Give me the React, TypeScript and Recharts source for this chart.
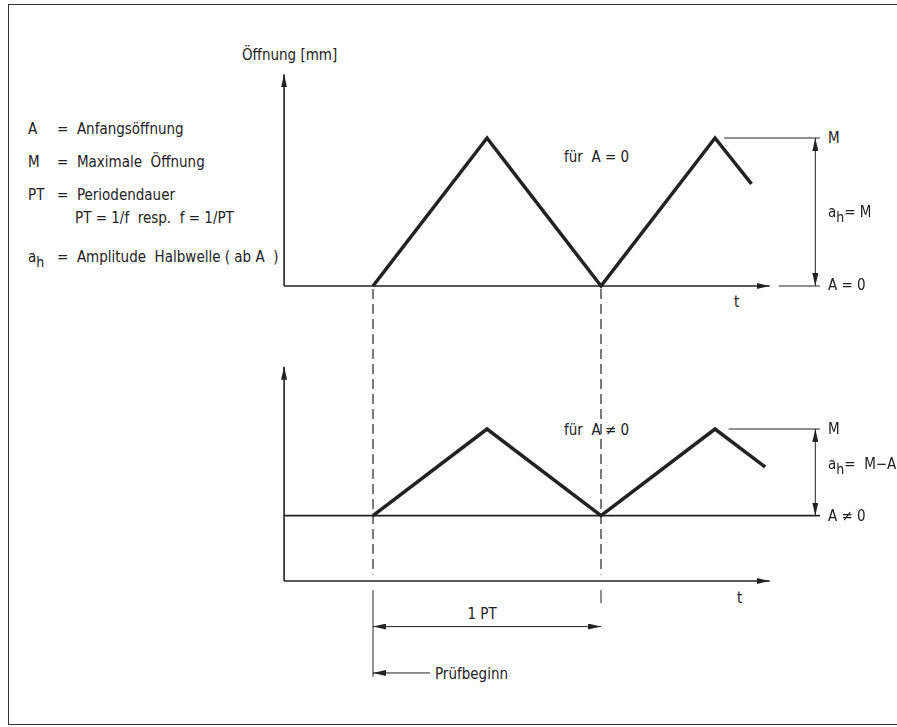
import React from "react";
import { ComposedChart, Line, XAxis, YAxis, ReferenceLine } from "recharts";

// Triangle wave, time in units of PT, opening relative to M
const waveTimes = [0, 0.5, 1, 1.5, 1.66];
const topWaveValues = [0, 1, 0, 1, 0.69];
const bottomWaveTimes = [0, 0.5, 1, 1.5, 1.72];
const bottomWaveValues = [0.43, 1, 0.43, 1, 0.75];

const M = 1;
const A_TOP = 0;
const A_BOTTOM = 0.43;

const legendRows = [
  { key: "A", text: "Anfangsöffnung" },
  { key: "M", text: "Maximale  Öffnung" },
  { key: "PT", text: "Periodendauer" },
];

const topWave = waveTimes.map((t, i) => ({ t, y: topWaveValues[i] }));
const bottomWave = bottomWaveTimes.map((t, i) => ({ t, y: bottomWaveValues[i] }));

// layout
const W = 897;
const H = 727;
const X0 = 373;
const PT_PX = 228;
const TOP_ZERO = 286;
const TOP_UNIT = 148;
const BOT_ZERO = 581;
const BOT_UNIT = 152;

const xDomain = [-X0 / PT_PX, (W - X0) / PT_PX];
const topDomain = [(TOP_ZERO - H) / TOP_UNIT, TOP_ZERO / TOP_UNIT];
const botDomain = [(BOT_ZERO - H) / BOT_UNIT, BOT_ZERO / BOT_UNIT];

const AXIS_T = -0.39;
const AXIS_END_T = 1.74;
const TICK_END_T = 1.96;
const DIM_T = 1.94;

const INK = "#222";
const FONT = '"DejaVu Sans Condensed", "Liberation Sans Narrow", Roboto, sans-serif';

function Txt({ x, y, children, center }: { x: number; y: number; children: React.ReactNode; center?: boolean }) {
  return (
    <div
      style={{
        position: "absolute",
        left: x,
        top: y - 8,
        transform: center ? "translateX(-50%)" : undefined,
        fontSize: 15,
        lineHeight: "17px",
        whiteSpace: "pre",
        color: INK,
        fontFamily: FONT,
      }}
    >
      {children}
    </div>
  );
}

const Sub = ({ children }: { children: React.ReactNode }) => (
  <span style={{ fontSize: 14, position: "relative", top: 5, color: INK }}>{children}</span>
);

export default function App() {
  const seg = (x1: number, y1: number, x2: number, y2: number) => [
    { x: x1, y: y1 },
    { x: x2, y: y2 },
  ];

  return (
    <div style={{ position: "fixed", left: 0, top: 0, width: W, height: H, background: "#fff" }}>
      <ComposedChart width={W} height={H} margin={{ top: 0, right: 0, bottom: 0, left: 0 }}>
        <defs>
          <marker id="arrEnd" markerUnits="userSpaceOnUse" viewBox="0 0 13 6" markerWidth={13} markerHeight={6} refX={13} refY={3} orient="auto">
            <path d="M0,0 L13,3 L0,6 Z" fill={INK} />
          </marker>
          <marker id="arrStart" markerUnits="userSpaceOnUse" viewBox="0 0 13 6" markerWidth={13} markerHeight={6} refX={13} refY={3} orient="auto-start-reverse">
            <path d="M0,0 L13,3 L0,6 Z" fill={INK} />
          </marker>
        </defs>
        <XAxis dataKey="t" type="number" domain={xDomain} allowDataOverflow hide />
        <YAxis yAxisId="top" type="number" domain={topDomain} allowDataOverflow hide />
        <YAxis yAxisId="bot" type="number" domain={botDomain} allowDataOverflow hide />

        {/* ── upper panel: für A = 0 ── */}
        <ReferenceLine yAxisId="top" segment={seg(AXIS_T, 0, AXIS_T, 1.43)} stroke={INK} strokeWidth={1.6} markerEnd="url(#arrEnd)" ifOverflow="visible" />
        <ReferenceLine yAxisId="top" segment={seg(AXIS_T, 0, AXIS_END_T, 0)} stroke={INK} strokeWidth={1.6} markerEnd="url(#arrEnd)" ifOverflow="visible" />
        <ReferenceLine yAxisId="top" segment={seg(1.54, M, TICK_END_T, M)} stroke={INK} strokeWidth={1} ifOverflow="visible" />
        <ReferenceLine yAxisId="top" segment={seg(1.78, A_TOP, TICK_END_T, A_TOP)} stroke={INK} strokeWidth={1} ifOverflow="visible" />
        <ReferenceLine yAxisId="top" segment={seg(DIM_T, A_TOP, DIM_T, M)} stroke={INK} strokeWidth={1} markerStart="url(#arrStart)" markerEnd="url(#arrEnd)" ifOverflow="visible" />
        <ReferenceLine yAxisId="top" segment={seg(0, -0.02, 0, -1.95)} stroke={INK} strokeWidth={1.2} strokeDasharray="10 5" ifOverflow="visible" />
        <ReferenceLine yAxisId="top" segment={seg(1, -0.02, 1, -1.95)} stroke={INK} strokeWidth={1.2} strokeDasharray="10 5" ifOverflow="visible" />
        <Line yAxisId="top" data={topWave} dataKey="y" type="linear" stroke={INK} strokeWidth={3.5} strokeLinejoin="miter" strokeLinecap="butt" dot={false} activeDot={false} isAnimationActive={false} />

        {/* ── lower panel: für A ≠ 0 ── */}
        <ReferenceLine yAxisId="bot" segment={seg(AXIS_T, 0, AXIS_T, 1.41)} stroke={INK} strokeWidth={1.6} markerEnd="url(#arrEnd)" ifOverflow="visible" />
        <ReferenceLine yAxisId="bot" segment={seg(AXIS_T, 0, AXIS_END_T, 0)} stroke={INK} strokeWidth={1.6} markerEnd="url(#arrEnd)" ifOverflow="visible" />
        <ReferenceLine yAxisId="bot" segment={seg(AXIS_T, A_BOTTOM, TICK_END_T, A_BOTTOM)} stroke={INK} strokeWidth={1.6} ifOverflow="visible" />
        <ReferenceLine yAxisId="bot" segment={seg(1.56, M, TICK_END_T, M)} stroke={INK} strokeWidth={1} ifOverflow="visible" />
        <ReferenceLine yAxisId="bot" segment={seg(DIM_T, A_BOTTOM, DIM_T, M)} stroke={INK} strokeWidth={1} markerStart="url(#arrStart)" markerEnd="url(#arrEnd)" ifOverflow="visible" />
        <ReferenceLine yAxisId="bot" segment={seg(0, -0.06, 0, -0.63)} stroke={INK} strokeWidth={1} ifOverflow="visible" />
        <ReferenceLine yAxisId="bot" segment={seg(1, -0.06, 1, -0.145)} stroke={INK} strokeWidth={1} ifOverflow="visible" />
        <ReferenceLine yAxisId="bot" segment={seg(0, -0.3, 1, -0.3)} stroke={INK} strokeWidth={1} markerStart="url(#arrStart)" markerEnd="url(#arrEnd)" ifOverflow="visible" />
        <ReferenceLine yAxisId="bot" segment={seg(0.25, -0.605, 0, -0.605)} stroke={INK} strokeWidth={1} markerEnd="url(#arrEnd)" ifOverflow="visible" />
        <Line yAxisId="bot" data={bottomWave} dataKey="y" type="linear" stroke={INK} strokeWidth={3.5} strokeLinejoin="miter" strokeLinecap="butt" dot={false} activeDot={false} isAnimationActive={false} />
      </ComposedChart>

      {/* frame (no right edge in the scan) */}
      <div
        style={{
          position: "absolute",
          left: 8,
          top: 4,
          width: 895,
          height: 719,
          borderTop: "1.5px solid #333",
          borderLeft: "1.5px solid #333",
          borderBottom: "1.5px solid #333",
        }}
      />

      {/* legend */}
      {legendRows.map((r, i) => (
        <React.Fragment key={r.key}>
          <Txt x={28} y={129 + i * 33}>{r.key}</Txt>
          <Txt x={57} y={129 + i * 33}>{"=  " + r.text}</Txt>
        </React.Fragment>
      ))}
      <Txt x={75} y={218}>{"PT = 1/f  resp.  f = 1/PT"}</Txt>
      <Txt x={28} y={257}>a<Sub>h</Sub></Txt>
      <Txt x={57} y={257}>{"=  Amplitude  Halbwelle ( ab A  )"}</Txt>

      <Txt x={242} y={55}>Öffnung [mm]</Txt>
      <Txt x={564} y={157}>{"für  A = 0"}</Txt>
      <Txt x={564} y={430}>{"für  A ≠ 0"}</Txt>
      <Txt x={734} y={302}>t</Txt>
      <Txt x={737} y={598}>t</Txt>

      <Txt x={828} y={138}>M</Txt>
      <Txt x={828} y={212}>a<Sub>h</Sub>= M</Txt>
      <Txt x={828} y={285}>A = 0</Txt>
      <Txt x={828} y={429}>M</Txt>
      <Txt x={828} y={464}>a<Sub>h</Sub>=  M−A</Txt>
      <Txt x={828} y={516}>A ≠ 0</Txt>

      <Txt x={482} y={614} center>1 PT</Txt>
      <Txt x={435} y={674}>Prüfbeginn</Txt>
    </div>
  );
}
